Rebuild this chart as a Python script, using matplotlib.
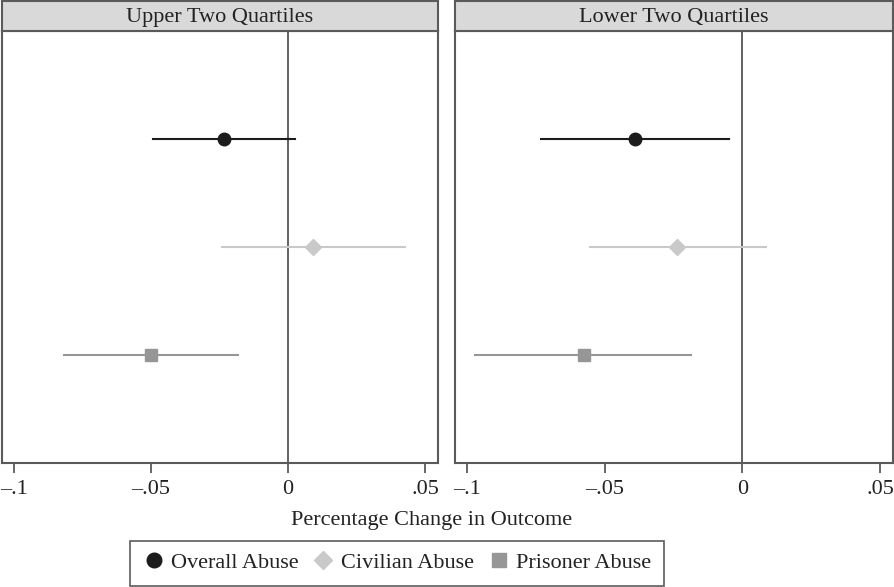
import matplotlib
matplotlib.use("Agg")
import matplotlib.pyplot as plt
from matplotlib.lines import Line2D

plt.rcParams['font.family'] = ['Liberation Serif', 'DejaVu Serif']

panels = ["Upper Two Quartiles", "Lower Two Quartiles"]
series = ["Overall Abuse", "Civilian Abuse", "Prisoner Abuse"]
colors = ["#1c1c1c", "#c9c9c9", "#969696"]
markers = ["o", "D", "s"]
msizes = [9, 8, 8]

# estimates, lower CI, upper CI per panel (order: overall, civilian, prisoner)
est_upper = [-0.0234, 0.0091, -0.0500]
lo_upper = [-0.0493, -0.0241, -0.0818]
hi_upper = [0.0026, 0.0427, -0.0182]

est_lower = [-0.0391, -0.0237, -0.0577]
lo_lower = [-0.0730, -0.0555, -0.0971]
hi_lower = [-0.0047, 0.0084, -0.0186]

xticks = [-0.1, -0.05, 0, 0.05]
xticklabels = ["\u2013.1", "\u2013.05", "0", ".05"]

fig = plt.figure(figsize=(8.94, 5.87), dpi=100)
W, H = 894, 587

def px_axes(x0, x1, y0, y1):
    return fig.add_axes([x0 / W, 1 - y1 / H, (x1 - x0) / W, (y1 - y0) / H])

frame_col = "#5a5a5a"
data = [(est_upper, lo_upper, hi_upper), (est_lower, lo_lower, hi_lower)]
boxes = [(2, 438), (455, 893)]

for p, (title, (est, lo, hi), (x0, x1)) in enumerate(zip(panels, data, boxes)):
    ax = px_axes(x0, x1, 31, 463)
    ax.set_xlim(-0.1044, 0.0547)
    ax.set_ylim(4, 0)
    ax.axvline(0, color="#555555", lw=1.3, zorder=1)
    for i in range(3):
        y = i + 1
        ax.plot([lo[i], hi[i]], [y, y], color=colors[i], lw=1.5, zorder=2)
        ax.plot(est[i], y, marker=markers[i], color=colors[i], ms=msizes[i],
                mec=colors[i], ls="none", zorder=3)
    ax.set_yticks([])
    ax.set_xticks(xticks)
    ax.set_xticklabels(xticklabels, fontsize=16, color="#222222")
    ax.tick_params(axis="x", direction="out", length=7, width=1.3,
                   color=frame_col, pad=5)
    for s in ax.spines.values():
        s.set_color(frame_col)
        s.set_linewidth(1.5)
    # strip
    sax = px_axes(x0, x1, 1, 31)
    sax.set_xticks([]); sax.set_yticks([])
    sax.set_facecolor("#d9d9d9")
    for s in sax.spines.values():
        s.set_color(frame_col)
        s.set_linewidth(1.5)
    sax.text(0.5, 0.45, title, ha="center", va="center", fontsize=16,
             color="#222222", transform=sax.transAxes)

fig.text(432 / W, 1 - 521 / H, "Percentage Change in Outcome", ha="center",
         va="center", fontsize=16, color="#222222")

handles = [Line2D([], [], marker=m, color=c, mec=c, ls="none", ms=ms + 1.5)
           for m, c, ms in zip(markers, colors, msizes)]
leg = fig.legend(handles, series, loc="center", bbox_to_anchor=(397 / W, 1 - 563 / H),
                 ncol=3, frameon=True, fancybox=False, fontsize=16,
                 handletextpad=0.3, columnspacing=0.6, borderpad=0.55,
                 handlelength=1.0)
leg.get_frame().set_edgecolor("#333333")
leg.get_frame().set_linewidth(1.2)
for t in leg.get_texts():
    t.set_color("#222222")

fig.savefig("out.png", dpi=100)
